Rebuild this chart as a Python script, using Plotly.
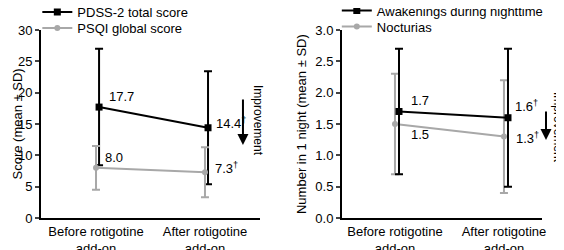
import plotly.graph_objects as go

categories = ["Before rotigotine<br>add-on", "After rotigotine<br>add-on"]

pdss_mean = [17.7, 14.4]
pdss_sd = [9.3, 9.0]
psqi_mean = [8.0, 7.3]
psqi_sd = [3.5, 4.0]
pdss_labels = ["17.7", "14.4<sup>†</sup>"]
psqi_labels = ["8.0", "7.3<sup>†</sup>"]

awak_mean = [1.7, 1.6]
awak_sd = [1.0, 1.1]
noct_mean = [1.5, 1.3]
noct_sd = [0.8, 0.9]
awak_labels = ["1.7", "1.6<sup>†</sup>"]
noct_labels = ["1.5", "1.3<sup>†</sup>"]

left_ticks = [0, 5, 10, 15, 20, 25, 30]
right_ticks = [0.0, 0.5, 1.0, 1.5, 2.0, 2.5, 3.0]
right_ticktext = ["0.0", "0.5", "1.0", "1.5", "2.0", "2.5", "3.0"]

BLACK = "#000000"
GREY = "#a8a8a8"
FONT = "Liberation Sans, Arial, sans-serif"
FS = 13

xpos = [0, 1]
off_l = 0.028
off_r = 0.037

fig = go.Figure()

# Left panel
fig.add_trace(go.Scatter(
    x=[v + off_l for v in xpos], y=pdss_mean, mode="lines+markers", name="PDSS-2 total score",
    line=dict(color=BLACK, width=2), marker=dict(symbol="square", size=7, color=BLACK),
    error_y=dict(type="data", array=pdss_sd, color=BLACK, thickness=2, width=4),
    xaxis="x", yaxis="y", legend="legend"))
fig.add_trace(go.Scatter(
    x=xpos, y=psqi_mean, mode="lines+markers", name="PSQI global score",
    line=dict(color=GREY, width=2), marker=dict(symbol="circle", size=6, color=GREY),
    error_y=dict(type="data", array=psqi_sd, color=GREY, thickness=2, width=4),
    xaxis="x", yaxis="y", legend="legend2"))

# Right panel
fig.add_trace(go.Scatter(
    x=xpos, y=noct_mean, mode="lines+markers", name="Nocturias",
    line=dict(color=GREY, width=2), marker=dict(symbol="circle", size=6, color=GREY),
    error_y=dict(type="data", array=noct_sd, color=GREY, thickness=2, width=4),
    xaxis="x2", yaxis="y2", legend="legend4"))
fig.add_trace(go.Scatter(
    x=[v + off_r for v in xpos], y=awak_mean, mode="lines+markers", name="Awakenings during nighttime",
    line=dict(color=BLACK, width=2), marker=dict(symbol="square", size=7, color=BLACK),
    error_y=dict(type="data", array=awak_sd, color=BLACK, thickness=2, width=4),
    xaxis="x2", yaxis="y2", legend="legend3"))

ann = []
lab_font = dict(size=FS, color=BLACK, family=FONT)
pdss_shift = [(8, 11), (6, 5)]
psqi_shift = [(7, 10), (8, 4)]
awak_shift = [(10, 11), (5, 12)]
noct_shift = [(14, -10), (10, -1)]
for i in range(2):
    ann.append(dict(x=xpos[i] + off_l, y=pdss_mean[i], xref="x", yref="y", text=pdss_labels[i],
                    showarrow=False, xanchor="left", yanchor="middle",
                    xshift=pdss_shift[i][0], yshift=pdss_shift[i][1], font=lab_font))
    ann.append(dict(x=xpos[i], y=psqi_mean[i], xref="x", yref="y", text=psqi_labels[i],
                    showarrow=False, xanchor="left", yanchor="middle",
                    xshift=psqi_shift[i][0], yshift=psqi_shift[i][1], font=lab_font))
    ann.append(dict(x=xpos[i] + off_r, y=awak_mean[i], xref="x2", yref="y2", text=awak_labels[i],
                    showarrow=False, xanchor="left", yanchor="middle",
                    xshift=awak_shift[i][0], yshift=awak_shift[i][1], font=lab_font))
    ann.append(dict(x=xpos[i], y=noct_mean[i], xref="x2", yref="y2", text=noct_labels[i],
                    showarrow=False, xanchor="left", yanchor="middle",
                    xshift=noct_shift[i][0], yshift=noct_shift[i][1], font=lab_font))

# Improvement arrows and text
for (ax_x, tx_x, head_y, tail_len, txt_y) in [(0.4166, 0.4433, 0.452, 47, 0.552),
                                               (0.9539, 0.9752, 0.472, 30, 0.524)]:
    ann.append(dict(x=ax_x, y=head_y, xref="paper", yref="paper", text="", showarrow=True,
                    arrowhead=2, arrowsize=1.1, arrowwidth=2, arrowcolor=BLACK, ax=0, ay=-tail_len))
    ann.append(dict(x=tx_x, y=txt_y, xref="paper", yref="paper", text="Improvement", showarrow=False,
                    xanchor="center", yanchor="middle",
                    textangle=90, font=dict(size=12, color=BLACK, family=FONT)))

# Y-axis titles
ann.append(dict(x=0.0, y=0.536, xref="paper", yref="paper", text="Score (mean ± SD)",
                xanchor="left", yanchor="middle",
                showarrow=False, textangle=-90, font=lab_font))
ann.append(dict(x=0.5213, y=0.536, xref="paper", yref="paper", text="Number in 1 night (mean ± SD)",
                xanchor="center", yanchor="middle",
                showarrow=False, textangle=-90, font=lab_font))

axis_common = dict(showline=True, linecolor=BLACK, linewidth=2, showgrid=False, zeroline=False,
                   automargin=False, tickfont=dict(size=FS, color=BLACK, family=FONT))

legend_common = dict(xanchor="left", yanchor="top", bgcolor="rgba(0,0,0,0)", itemwidth=30,
                     font=dict(size=FS, family=FONT))

fig.update_layout(
    width=564, height=250,
    margin=dict(l=0, r=0, t=0, b=0, autoexpand=False),
    paper_bgcolor="white", plot_bgcolor="white",
    font=dict(family=FONT, size=FS, color=BLACK),
    showlegend=True,
    xaxis=dict(domain=[0.0585, 0.4468], range=[-0.505, 1.505], tickvals=xpos, ticktext=categories,
               ticks="", anchor="y", **axis_common),
    yaxis=dict(domain=[0.16, 0.912], range=[0, 30], tickvals=left_ticks, ticks="outside", ticklen=4,
               tickwidth=2, anchor="x", **axis_common),
    xaxis2=dict(domain=[0.5922, 0.9468], range=[-0.486, 1.349], tickvals=xpos, ticktext=categories,
                ticks="", anchor="y2", **axis_common),
    yaxis2=dict(domain=[0.16, 0.912], range=[0, 3], tickvals=right_ticks, ticktext=right_ticktext,
                ticks="outside", ticklen=4, tickwidth=2, anchor="x2", **axis_common),
    legend=dict(x=0.052, y=1.044, **legend_common),
    legend2=dict(x=0.052, y=0.98, **legend_common),
    legend3=dict(x=0.583, y=1.05, **legend_common),
    legend4=dict(x=0.583, y=0.986, **legend_common),
    annotations=ann,
)

fig.write_html("out.html")
